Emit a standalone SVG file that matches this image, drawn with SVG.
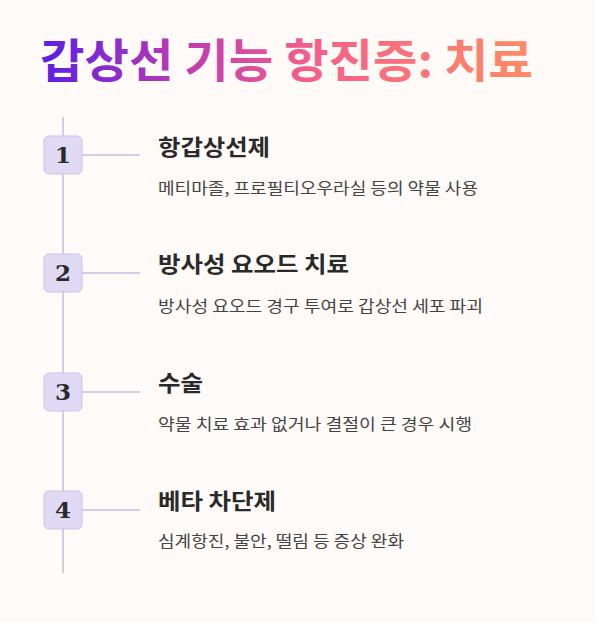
<svg xmlns="http://www.w3.org/2000/svg" width="595" height="622" viewBox="0 0 595 622">
<defs>
<linearGradient id="tg" x1="40" y1="0" x2="535" y2="0" gradientUnits="userSpaceOnUse">
<stop offset="0" stop-color="#5a1ee6"/>
<stop offset="0.3" stop-color="#c03cb0"/>
<stop offset="0.55" stop-color="#f5608a"/>
<stop offset="1" stop-color="#ff8c64"/>
</linearGradient>
<style>
.box{fill:#e1daf4;stroke:#cbc0ea;stroke-width:1}
.ln{stroke:#c6bde2;stroke-width:1.5;fill:none}
.num{font-family:"DejaVu Serif",serif;font-weight:bold;font-size:23px;fill:#2a2a2a;text-anchor:middle}
.ttl{font-family:"Noto Sans CJK KR",sans-serif;font-weight:bold;font-size:22px;fill:#2a2a2a}
.dsc{font-family:"Noto Sans CJK KR",sans-serif;font-size:16px;fill:#444}
</style>
</defs>
<rect width="595" height="622" fill="#fefaf7"/>
<text x="40" y="77" font-family="Noto Sans CJK KR, sans-serif" font-weight="bold" font-size="46" fill="url(#tg)" textLength="493" lengthAdjust="spacingAndGlyphs">갑상선 기능 항진증: 치료</text>
<g id="connectors">
<line class="ln" x1="63" y1="117" x2="63" y2="573"/>
<line class="ln" x1="82" y1="155" x2="140" y2="155"/>
<line class="ln" x1="82" y1="273" x2="140" y2="273"/>
<line class="ln" x1="82" y1="392" x2="140" y2="392"/>
<line class="ln" x1="82" y1="510" x2="140" y2="510"/>
</g>
<g id="step1">
<rect class="box" x="44" y="136" width="38" height="38" rx="5"/>
<text class="num" x="63" y="163">1</text>
<text class="ttl" x="158" y="155" textLength="112" lengthAdjust="spacingAndGlyphs">항갑상선제</text>
<text class="dsc" x="158" y="194" textLength="320" lengthAdjust="spacingAndGlyphs">메티마졸, 프로필티오우라실 등의 약물 사용</text>
</g>
<g id="step2">
<rect class="box" x="44" y="254" width="38" height="38" rx="5"/>
<text class="num" x="63" y="281">2</text>
<text class="ttl" x="158" y="272" textLength="191" lengthAdjust="spacingAndGlyphs">방사성 요오드 치료</text>
<text class="dsc" x="158" y="312" textLength="325" lengthAdjust="spacingAndGlyphs">방사성 요오드 경구 투여로 갑상선 세포 파괴</text>
</g>
<g id="step3">
<rect class="box" x="44" y="373" width="38" height="38" rx="5"/>
<text class="num" x="63" y="400">3</text>
<text class="ttl" x="158" y="391" textLength="45" lengthAdjust="spacingAndGlyphs">수술</text>
<text class="dsc" x="158" y="430" textLength="314" lengthAdjust="spacingAndGlyphs">약물 치료 효과 없거나 결절이 큰 경우 시행</text>
</g>
<g id="step4">
<rect class="box" x="44" y="491" width="38" height="38" rx="5"/>
<text class="num" x="63" y="518">4</text>
<text class="ttl" x="158" y="509" textLength="118" lengthAdjust="spacingAndGlyphs">베타 차단제</text>
<text class="dsc" x="158" y="547" textLength="246" lengthAdjust="spacingAndGlyphs">심계항진, 불안, 떨림 등 증상 완화</text>
</g>
</svg>
